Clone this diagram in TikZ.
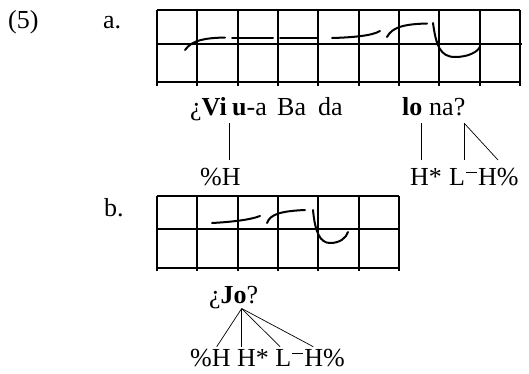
\documentclass[tikz,border=0pt]{standalone}
\usepackage{fontspec}
\setmainfont{Liberation Serif}
\newcommand{\Lminus}{L\kern0.04em\raisebox{0.46em}{\rule{0.42em}{1.1pt}}\kern0.04em}
\begin{document}
\begin{tikzpicture}[x=1pt,y=-1pt,
  gridline/.style={line width=2.1pt},
  contour/.style={line width=2pt, line cap=round},
  assoc/.style={line width=0.7pt},
  lbl/.style={inner sep=0pt, anchor=base west, font=\fontsize{26}{30}\selectfont}]
\useasboundingbox (0,0) rectangle (529,373);
% grid a
\foreach \i in {0,...,9} \draw[gridline] ({157+40.33*\i},10) -- ({157+40.33*\i},86);
\draw[gridline] (157,10) -- (520,10);
\draw[gridline] (157,44) -- (522,44);
\draw[gridline] (157,82) -- (520,82);
% contour a
\draw[contour] (185,50) .. controls (192,40) and (205,38) .. (225,37.5);
\draw[contour] (232,37.5) -- (273,37.5);
\draw[contour] (280,37.5) -- (318,37.5);
\draw[contour] (332,38) .. controls (350,37.5) and (372,36) .. (380,31);
\draw[contour] (387,37) .. controls (392,27) and (405,24) .. (427,23.5);
\draw[contour] (433,23) .. controls (436,45) and (440,57) .. (455,57) .. controls (468,57) and (478,52) .. (480,46.5);
% grid b
\foreach \i in {0,...,6} \draw[gridline] ({157+40.33*\i},196) -- ({157+40.33*\i},271);
\draw[gridline] (157,196) -- (399,196);
\draw[gridline] (157,229) -- (399,229);
\draw[gridline] (157,268) -- (399,268);
% contour b
\draw[contour] (212,223) .. controls (230,222) and (250,220) .. (260,216);
\draw[contour] (267,223) .. controls (270,214) and (282,211) .. (305,210);
\draw[contour] (313,210) .. controls (315,232) and (320,243) .. (330,243) .. controls (340,243) and (346,238) .. (348,232);
% labels
\node[lbl] (ex) at (8,28) {(5)};
\node[lbl] (la) at (103,28) {a.};
\node[lbl] (lb) at (104,216) {b.};
% words a
\node[lbl] (w1) at (190,115) {¿\textbf{Vi}};
\node[lbl] (w2) at (232,115) {\textbf{u}-a};
\node[lbl] (w3) at (277,115) {Ba};
\node[lbl] (w4) at (318,115) {da};
\node[lbl] (w5) at (402,115) {\textbf{lo}};
\node[lbl] (w6) at (429,115) {na?};
% tones a
\node[lbl] (t1) at (200,185) {\%H};
\node[lbl] (t2) at (410,185) {H*};
\node[lbl] (t3) at (449,185) {\Lminus H\%};
\coordinate (a1) at (229,123); \coordinate (a1e) at (229,160);
\coordinate (a2) at (421,123); \coordinate (a2e) at (421,160);
\coordinate (a3) at (464,123); \coordinate (a3e) at (464,160);
\coordinate (a4e) at (498,160);
\draw[assoc] (a1) -- (a1e);
\draw[assoc] (a2) -- (a2e);
\draw[assoc] (a3) -- (a3e);
\draw[assoc] (a3) -- (a4e);
% b
\node[lbl] (jo) at (209,303) {¿\textbf{Jo}?};
\node[lbl] (t4) at (190,366) {\%H H* \Lminus H\%};
\coordinate (apex) at (241.7,308.5);
\coordinate (b1) at (216.7,346.7);
\coordinate (b2) at (241.7,346.7);
\coordinate (b3) at (280,346.7);
\coordinate (b4) at (313.3,346.7);
\draw[assoc] (apex) -- (b1);
\draw[assoc] (apex) -- (b2);
\draw[assoc] (apex) -- (b3);
\draw[assoc] (apex) -- (b4);
\end{tikzpicture}
\end{document}
